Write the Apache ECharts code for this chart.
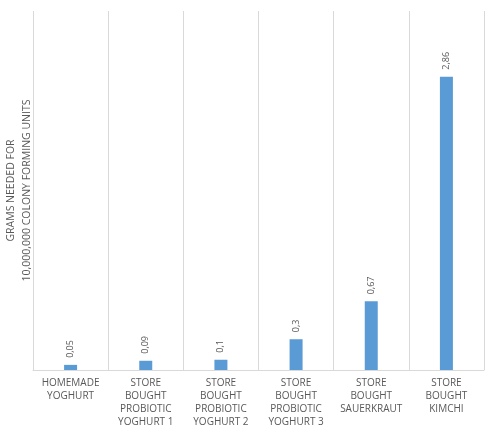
<!DOCTYPE html>
<html>
<head>
<meta charset="utf-8">
<script src="https://cdn.jsdelivr.net/npm/echarts@6/dist/echarts.min.js"></script>
<style>
  html, body { margin: 0; padding: 0; background: #fff; }
  #chart { width: 490px; height: 436px; }
</style>
</head>
<body>
<div id="chart"></div>
<script>
const categories = [
    'HOMEMADE YOGHURT',
    'STORE BOUGHT PROBIOTIC YOGHURT 1',
    'STORE BOUGHT PROBIOTIC YOGHURT 2',
    'STORE BOUGHT PROBIOTIC YOGHURT 3',
    'STORE BOUGHT SAUERKRAUT',
    'STORE BOUGHT KIMCHI'
];
const grams = [0.05, 0.09, 0.1, 0.3, 0.67, 2.86];
const yAxisTitle = 'GRAMS NEEDED FOR\n10,000,000 COLONY FORMING UNITS';

const chart = echarts.init(document.getElementById('chart'));
const textColor = '#595959';

chart.setOption({
    animation: false,
    textStyle: { fontFamily: 'Open Sans' },
    grid: { left: 33, right: 6, top: 11, bottom: 66, containLabel: false, outerBoundsMode: 'none' },
    xAxis: {
        type: 'category',
        data: categories,
        axisTick: { show: false },
        axisLine: { lineStyle: { color: '#d9d9d9' } },
        splitLine: { show: true, lineStyle: { color: '#d9d9d9' } },
        axisLabel: {
            interval: 0,
            color: textColor,
            fontSize: 10,
            lineHeight: 13,
            margin: 7,
            // break at spaces, keeping trailing numbers with the word before
            formatter: value => value.replace(/ (?!\d)/g, '\n')
        }
    },
    yAxis: {
        type: 'value',
        min: 0,
        max: 3.5,
        splitLine: { show: false },
        axisLabel: { show: false },
        axisLine: { show: false },
        axisTick: { show: false },
        name: yAxisTitle,
        nameLocation: 'middle',
        nameGap: -2,
        nameRotate: 90,
        nameTextStyle: { color: textColor, fontSize: 10.5, lineHeight: 16 }
    },
    series: [{
        type: 'bar',
        data: grams,
        barWidth: 13,
        itemStyle: { color: '#5b9bd5' },
        label: {
            show: true,
            position: 'top',
            rotate: 90,
            align: 'left',
            verticalAlign: 'middle',
            distance: 7,
            color: textColor,
            fontSize: 9,
            formatter: p => String(p.value).replace('.', ',')
        }
    }]
});
</script>
</body>
</html>
